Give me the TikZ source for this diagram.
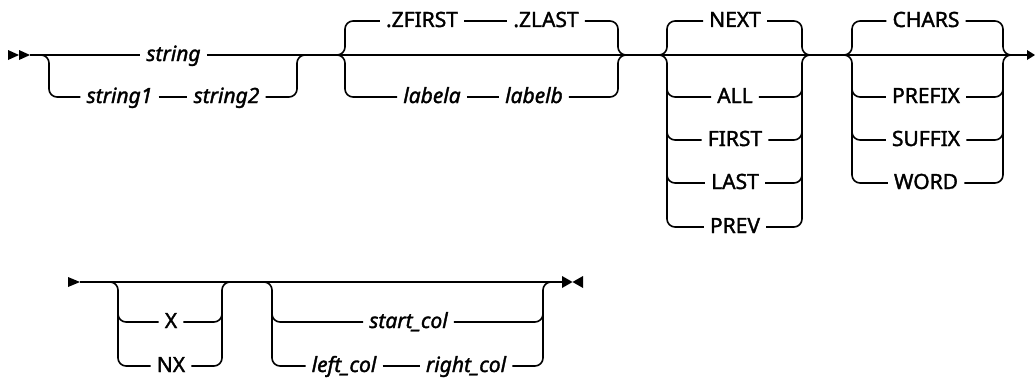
\documentclass[tikz,border=0pt]{standalone}
\usepackage{fontspec}
\setmainfont{Noto Sans}[FakeBold=1.6]
\begin{document}
\begin{tikzpicture}[x=1pt,y=-1pt,
  rail/.style={line width=1.6pt},
  rc/.style={rail,rounded corners=8pt},
  kw/.style={font=\fontsize{21}{24}\selectfont, inner xsep=6pt, inner ysep=0pt, text height=15pt, text depth=3pt},
  var/.style={kw, font=\fontsize{21}{24}\selectfont\itshape}]
\useasboundingbox (0,0) rectangle (1035,380);
% ---------- row 1 ----------
\fill (8,50) -- (19,55) -- (8,60) -- cycle;
\fill (19,50) -- (30,55) -- (19,60) -- cycle;
\coordinate (begin) at (30,55);
% section 1
\node[var] (string) at (173.5,55) {string};
\node[var] (string1) at (119.5,97) {string1};
\node[var] (string2) at (226.5,97) {string2};
\coordinate (s1a) at (41,55);
\coordinate (s1L) at (49,55);
\coordinate (s1R) at (297,55);
\coordinate (s1out) at (305,55);
% section 2
\coordinate (s2tip) at (337,55);
\coordinate (s2L) at (345,55);
\coordinate (s2R) at (618,55);
\coordinate (s2out) at (626,55);
\node[kw] (zfirst) at (422,21) {.ZFIRST};
\node[kw] (zlast) at (546,21) {.ZLAST};
\node[var] (labela) at (432,97) {labela};
\node[var] (labelb) at (534,97) {labelb};
% section 3
\coordinate (s3tip) at (659,55);
\coordinate (s3L) at (667,55);
\coordinate (s3v) at (667,72);
\coordinate (s3R) at (802,55);
\coordinate (s3Rv) at (802,72);
\coordinate (s3out) at (810,55);
\node[kw] (next) at (735,21) {NEXT};
\node[kw] (all) at (735,97) {ALL};
\node[kw] (first) at (735,140) {FIRST};
\node[kw] (last) at (735,183) {LAST};
\node[kw] (prev) at (735,227) {PREV};
% section 4
\coordinate (s4tip) at (844,55);
\coordinate (s4L) at (852,55);
\coordinate (s4v) at (852,72);
\coordinate (s4R) at (1003,55);
\coordinate (s4Rv) at (1003,72);
\coordinate (s4out) at (1011,55);
\node[kw] (chars) at (926,21) {CHARS};
\node[kw] (prefix) at (926,97) {PREFIX};
\node[kw] (suffix) at (926,140) {SUFFIX};
\node[kw] (word) at (926,183) {WORD};
\coordinate (end1) at (1027,55);
\fill (1027,50) -- (1035,55) -- (1027,60) -- cycle;

% main line row 1
\draw[rail] (begin) -- (string);
\draw[rail] (string) -- (s2tip);
\draw[rail] (s2tip) -- (s2out) -- (s3tip) -- (s3out) -- (s4tip) -- (s4out) -- (end1);
% section 1 branch
\draw[rc] (s1a) -- (s1L) |- (string1);
\draw[rail] (string1) -- (string2);
\draw[rc] (string2) -| (s1R) -- (s1out);
% section 2
\draw[rc] (s2tip) -- (s2L) |- (zfirst);
\draw[rc] (s2tip) -- (s2L) |- (labela);
\draw[rail] (zfirst) -- (zlast);
\draw[rail] (labela) -- (labelb);
\draw[rc] (zlast) -| (s2R) -- (s2out);
\draw[rc] (labelb) -| (s2R) -- (s2out);
% section 3
\draw[rc] (s3tip) -- (s3L) |- (next);
\draw[rc] (s3tip) -- (s3L) |- (prev);
\draw[rc] (s3v) |- (all);
\draw[rc] (s3v) |- (first);
\draw[rc] (s3v) |- (last);
\draw[rc] (next) -| (s3R) -- (s3out);
\draw[rc] (prev) -| (s3R) -- (s3out);
\draw[rc] (all) -| (s3Rv);
\draw[rc] (first) -| (s3Rv);
\draw[rc] (last) -| (s3Rv);
% section 4
\draw[rc] (s4tip) -- (s4L) |- (chars);
\draw[rc] (s4tip) -- (s4L) |- (word);
\draw[rc] (s4v) |- (prefix);
\draw[rc] (s4v) |- (suffix);
\draw[rc] (chars) -| (s4R) -- (s4out);
\draw[rc] (word) -| (s4R) -- (s4out);
\draw[rc] (prefix) -| (s4Rv);
\draw[rc] (suffix) -| (s4Rv);

% ---------- row 2 ----------
\fill (68,277) -- (80,282) -- (68,287) -- cycle;
\coordinate (begin2) at (80,282);
\coordinate (s5a) at (110,282);
\coordinate (s5L) at (118,282);
\coordinate (s5v) at (118,300);
\coordinate (s5R) at (222,282);
\coordinate (s5Rv) at (222,300);
\coordinate (s5out) at (230,282);
\node[kw] (x) at (171,322) {X};
\node[kw] (nx) at (171,366) {NX};
\coordinate (s6a) at (264,282);
\coordinate (s6L) at (272,282);
\coordinate (s6v) at (272,300);
\coordinate (s6R) at (543,282);
\coordinate (s6Rv) at (543,300);
\coordinate (s6out) at (551,282);
\node[var] (startcol) at (408.5,322) {start\_col};
\node[var] (leftcol) at (344,366) {left\_col};
\node[var] (rightcol) at (466,366) {right\_col};
\coordinate (end2) at (562,282);
\fill (562,276) -- (572.5,282) -- (562,288) -- cycle;
\fill (583,276) -- (572.5,282) -- (583,288) -- cycle;

\draw[rail] (begin2) -- (end2);
\draw[rc] (s5a) -- (s5L) |- (nx);
\draw[rc] (s5v) |- (x);
\draw[rc] (x) -| (s5Rv);
\draw[rc] (nx) -| (s5R) -- (s5out);
\draw[rc] (s6a) -- (s6L) |- (leftcol);
\draw[rc] (s6v) |- (startcol);
\draw[rc] (startcol) -| (s6Rv);
\draw[rail] (leftcol) -- (rightcol);
\draw[rc] (rightcol) -| (s6R) -- (s6out);
\end{tikzpicture}
\end{document}
